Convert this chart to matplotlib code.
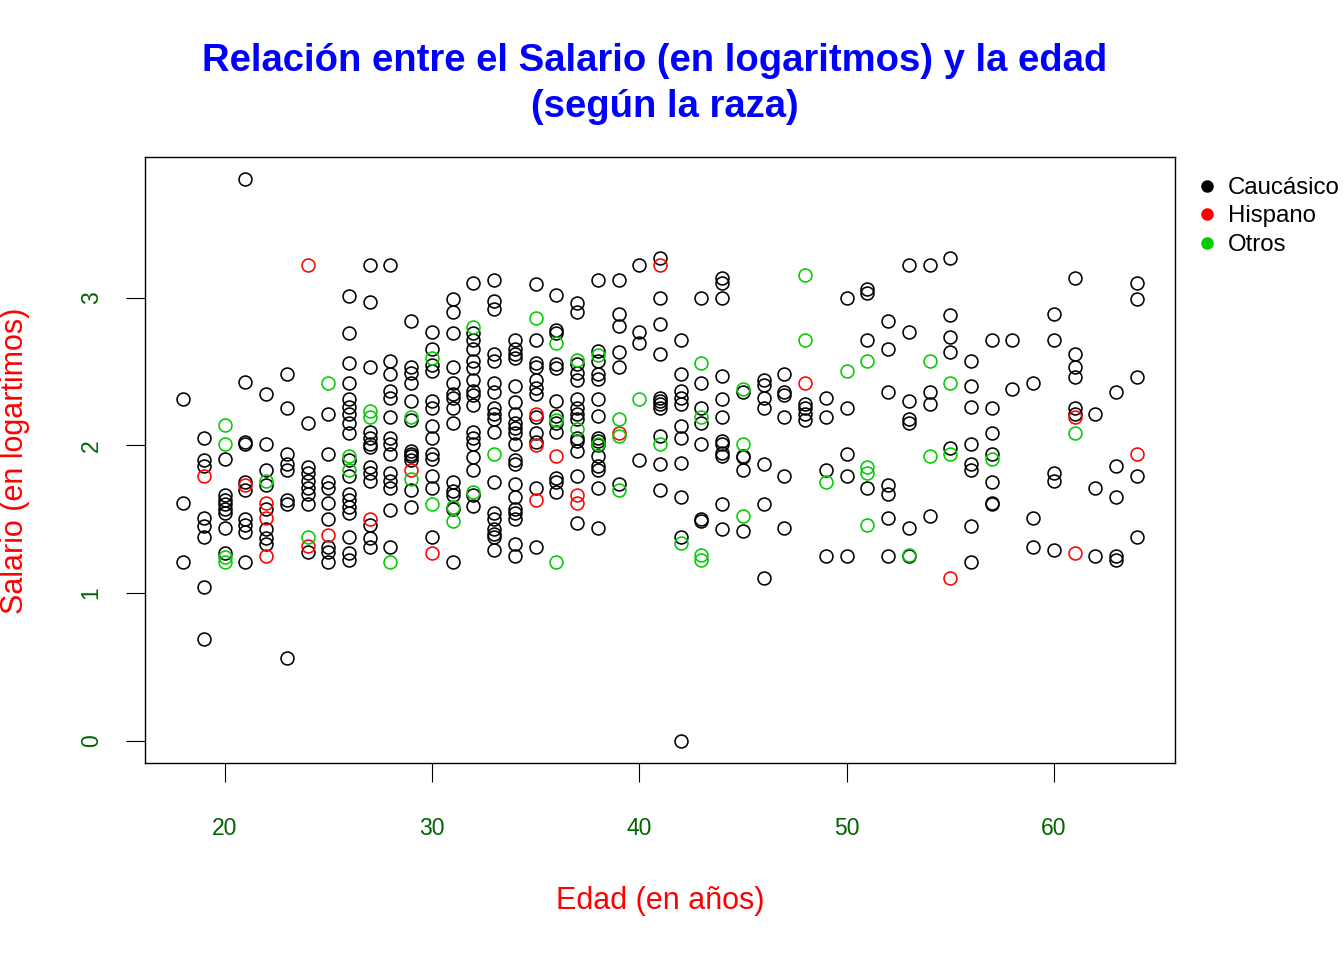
import numpy as np
import matplotlib
matplotlib.use("Agg")
import matplotlib.pyplot as plt
from matplotlib.lines import Line2D

plt.rcParams['font.family'] = ['Liberation Sans', 'DejaVu Sans']

# log salary by age, one dict per race
caucasico = {
    18: [2.31, 1.61, 1.21],
    19: [2.05, 1.90, 1.86, 1.51, 1.45, 1.38, 1.04, 0.69],
    20: [1.91, 1.66, 1.63, 1.60, 1.57, 1.54, 1.44, 1.27],
    21: [3.80, 2.43, 2.02, 2.01, 1.75, 1.70, 1.50, 1.46, 1.41, 1.21],
    22: [2.35, 2.01, 1.83, 1.73, 1.57, 1.43, 1.37, 1.33],
    23: [2.48, 2.25, 1.94, 1.87, 1.83, 1.63, 1.60, 0.56],
    24: [2.15, 1.85, 1.81, 1.76, 1.71, 1.67, 1.60, 1.28],
    25: [2.21, 1.94, 1.75, 1.71, 1.61, 1.50, 1.31, 1.28, 1.21],
    26: [3.01, 2.76, 2.56, 2.42, 2.31, 2.26, 2.21, 2.15, 2.08, 1.90, 1.79,
         1.67, 1.63, 1.58, 1.54, 1.38, 1.27, 1.22],
    27: [3.22, 2.97, 2.53, 2.09, 2.05, 2.01, 1.99, 1.85, 1.81, 1.76, 1.46,
         1.37, 1.31],
    28: [3.22, 2.57, 2.48, 2.37, 2.32, 2.19, 2.05, 2.01, 1.94, 1.81, 1.76,
         1.71, 1.56, 1.31],
    29: [2.84, 2.53, 2.49, 2.42, 2.30, 2.17, 1.96, 1.94, 1.93, 1.90, 1.70,
         1.58],
    30: [2.77, 2.65, 2.54, 2.50, 2.30, 2.25, 2.13, 2.05, 1.94, 1.91, 1.79,
         1.71, 1.38],
    31: [2.99, 2.90, 2.76, 2.53, 2.42, 2.35, 2.32, 2.25, 2.15, 1.75, 1.69,
         1.66, 1.57, 1.21],
    32: [3.10, 2.76, 2.71, 2.65, 2.57, 2.52, 2.44, 2.37, 2.34, 2.27, 2.09,
         2.05, 2.01, 1.92, 1.83, 1.66, 1.59],
    33: [3.12, 2.98, 2.92, 2.62, 2.57, 2.42, 2.36, 2.25, 2.21, 2.18, 2.09,
         1.75, 1.54, 1.50, 1.43, 1.40, 1.38, 1.29],
    34: [2.71, 2.65, 2.62, 2.59, 2.40, 2.29, 2.21, 2.15, 2.12, 2.08, 2.01,
         1.90, 1.87, 1.74, 1.65, 1.57, 1.54, 1.50, 1.33, 1.25],
    35: [3.09, 2.71, 2.56, 2.53, 2.44, 2.39, 2.35, 2.19, 2.08, 2.02, 1.71,
         1.31],
    36: [3.02, 2.78, 2.76, 2.55, 2.52, 2.30, 2.20, 2.15, 2.09, 1.78, 1.75,
         1.68],
    37: [2.96, 2.90, 2.55, 2.49, 2.44, 2.31, 2.25, 2.21, 2.18, 2.05, 2.03,
         1.96, 1.79, 1.47],
    38: [3.12, 2.64, 2.57, 2.48, 2.45, 2.31, 2.20, 2.05, 2.03, 2.00, 1.93,
         1.86, 1.83, 1.71, 1.44],
    39: [3.12, 2.89, 2.81, 2.63, 2.53, 1.74],
    40: [3.22, 2.77, 2.69, 1.90],
    41: [3.27, 3.00, 2.82, 2.62, 2.32, 2.30, 2.28, 2.25, 2.06, 1.87, 1.70],
    42: [2.71, 2.48, 2.37, 2.32, 2.28, 2.13, 2.05, 1.88, 1.65, 1.38, 0.00],
    43: [3.00, 2.42, 2.25, 2.15, 2.01, 1.50, 1.49],
    44: [3.13, 3.10, 3.00, 2.47, 2.31, 2.19, 2.03, 2.01, 1.95, 1.93, 1.60,
         1.43],
    45: [2.36, 1.93, 1.92, 1.83, 1.42],
    46: [2.44, 2.41, 2.32, 2.25, 1.87, 1.60, 1.10],
    47: [2.48, 2.36, 2.34, 2.19, 1.79, 1.44],
    48: [2.28, 2.25, 2.21, 2.17],
    49: [2.32, 2.19, 1.83, 1.25],
    50: [3.00, 2.25, 1.94, 1.79, 1.25],
    51: [3.06, 3.03, 2.71, 1.71],
    52: [2.84, 2.65, 2.36, 1.73, 1.67, 1.51, 1.25],
    53: [3.22, 2.77, 2.30, 2.18, 2.15, 1.44, 1.25],
    54: [3.22, 2.36, 2.28, 1.52],
    55: [3.27, 2.88, 2.73, 2.63, 1.98],
    56: [2.57, 2.40, 2.26, 2.01, 1.87, 1.83, 1.45, 1.21],
    57: [2.71, 2.25, 2.08, 1.94, 1.75, 1.61, 1.60],
    58: [2.71, 2.38],
    59: [2.42, 1.51, 1.31],
    60: [2.89, 2.71, 1.81, 1.76, 1.29],
    61: [3.13, 2.62, 2.53, 2.46, 2.25, 2.21],
    62: [2.21, 1.71, 1.25],
    63: [2.36, 1.86, 1.65, 1.25, 1.22],
    64: [3.10, 2.99, 2.46, 1.79, 1.38],
}

hispano = {
    19: [1.79], 21: [1.73], 22: [1.61, 1.51, 1.25], 24: [3.22, 1.32],
    25: [1.39], 27: [1.50], 29: [1.83], 30: [1.27],
    35: [2.21, 2.00, 1.63], 36: [1.93], 37: [1.66, 1.61], 39: [2.08],
    41: [3.22], 48: [2.42], 55: [1.10], 61: [2.19, 1.27], 64: [1.94],
}

otros = {
    20: [2.14, 2.01, 1.24, 1.21], 22: [1.76], 24: [1.38], 25: [2.42],
    26: [1.93, 1.83], 27: [2.23, 2.19], 28: [1.21], 29: [2.19, 1.77],
    30: [2.59, 1.60], 31: [1.58, 1.49], 32: [2.80, 1.68], 33: [1.94],
    35: [2.86], 36: [2.69, 2.17, 1.21], 37: [2.58, 2.11], 38: [2.61, 2.01],
    39: [2.18, 2.06, 1.70], 40: [2.31], 41: [2.01], 42: [1.34],
    43: [2.56, 2.19, 1.26, 1.22], 45: [2.38, 2.01, 1.52], 48: [3.15, 2.71],
    49: [1.75], 50: [2.50], 51: [2.57, 1.85, 1.81, 1.46], 53: [1.26],
    54: [2.57, 1.93], 55: [2.42, 1.94], 57: [1.91], 61: [2.08],
}

razas = ["Caucásico", "Hispano", "Otros"]
colores = ["black", "#FF0000", "#00CD00"]


def flatten(d):
    x = [a for a, vals in d.items() for _ in vals]
    y = [v for vals in d.values() for v in vals]
    return np.array(x), np.array(y)


fig = plt.figure(figsize=(13.44, 9.6), dpi=100)
ax = fig.add_axes([145 / 1344, 1 - 763 / 960, 1030 / 1344, 606 / 960])

for d, c in zip([caucasico, hispano, otros], colores):
    x, y = flatten(d)
    ax.plot(x, y, 'o', mfc='none', mec=c, ms=9.3, mew=1.15, ls='none')

ax.set_xlim(16.16, 65.84)
ax.set_ylim(-0.152, 3.952)
ax.set_xticks([20, 30, 40, 50, 60])
ax.set_yticks([0, 1, 2, 3])
ax.tick_params(axis='x', length=13.5, width=0.8, pad=25.5, labelsize=16.5,
               labelcolor='#006400', direction='out')
ax.tick_params(axis='y', length=13.5, width=0.8, pad=17, labelsize=16.5,
               labelcolor='#006400', direction='out')
for lab in ax.get_yticklabels():
    lab.set_rotation(90)
    lab.set_va('center')
for s in ax.spines.values():
    s.set_linewidth(1.0)

fig.text(655 / 1344, 1 - 61 / 960, "Relación entre el Salario (en logaritmos) y la edad",
         ha='center', va='center', color='#0000FF', fontsize=27.5, fontweight='bold')
fig.text(665 / 1344, 1 - 107 / 960, "(según la raza)",
         ha='center', va='center', color='#0000FF', fontsize=27.5, fontweight='bold')
fig.text(660 / 1344, 1 - 901 / 960, "Edad (en años)", ha='center', va='center',
         color='#FF0000', fontsize=22)
fig.text(15 / 1344, 1 - 461 / 960, "Salario (en logartimos)", ha='center',
         va='center', rotation=90, color='#FF0000', fontsize=22)

handles = [Line2D([], [], marker='o', ls='none', color=c, ms=8) for c in colores]
fig.legend(handles, razas, loc='upper left', bbox_to_anchor=(1197 / 1344, 1 - 177 / 960),
           frameon=False, fontsize=17.3, handlelength=0.8, handletextpad=0.5,
           labelspacing=0.27, borderaxespad=0, borderpad=0)

fig.savefig("out.png", dpi=100)
